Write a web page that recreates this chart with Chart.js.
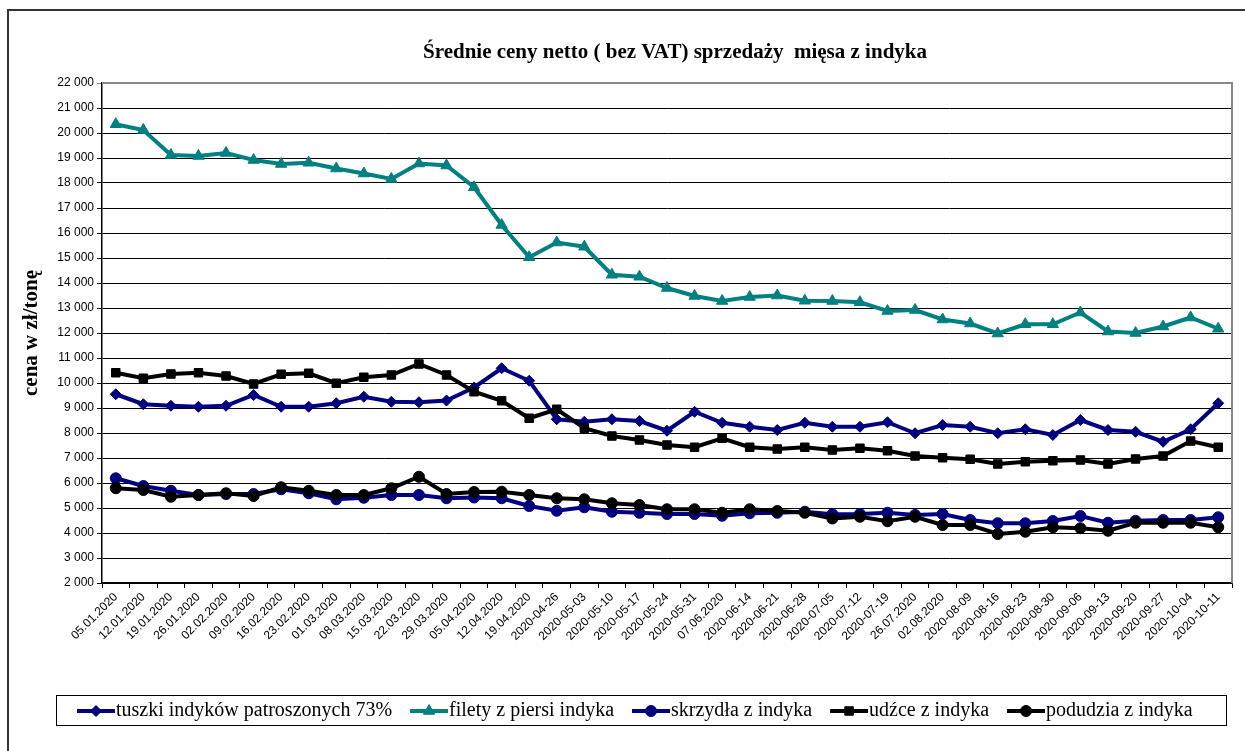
<!DOCTYPE html>
<html>
<head>
<meta charset="utf-8">
<title>Średnie ceny netto sprzedaży mięsa z indyka</title>
<script src="https://cdn.jsdelivr.net/npm/chart.js"></script>
<style>
  html, body { margin: 0; padding: 0; background: #fff; }
  #wrap { width: 1245px; height: 751px; position: relative; }
</style>
</head>
<body>
<div id="wrap"><canvas id="myChart" width="1245" height="751"></canvas></div>
<script>

const chartTitle = 'Średnie ceny netto ( bez VAT) sprzedaży  mięsa z indyka';
const yTitle = 'cena w zł/tonę';

const weeks = ['05.01.2020', '12.01.2020', '19.01.2020', '26.01.2020', '02.02.2020', '09.02.2020',
    '16.02.2020', '23.02.2020', '01.03.2020', '08.03.2020', '15.03.2020', '22.03.2020', '29.03.2020',
    '05.04.2020', '12.04.2020', '19.04.2020', '2020-04-26', '2020-05-03', '2020-05-10', '2020-05-17',
    '2020-05-24', '2020-05-31', '07.06.2020', '2020-06-14', '2020-06-21', '2020-06-28', '2020-07-05',
    '2020-07-12', '2020-07-19', '26.07.2020', '02.08.2020', '2020-08-09', '2020-08-16', '2020-08-23',
    '2020-08-30', '2020-09-06', '2020-09-13', '2020-09-20', '2020-09-27', '2020-10-04', '2020-10-11'];

const seriesNames = ['tuszki indyków patroszonych 73%', 'filety z piersi indyka', 'skrzydła z indyka',
    'udźce z indyka', 'podudzia z indyka'];

const tuszki = [9550, 9150, 9090, 9050, 9090, 9520, 9050, 9050, 9190, 9450, 9250, 9230, 9300, 9820,
    10590, 10090, 8550, 8450, 8550, 8480, 8090, 8850, 8410, 8250, 8120, 8410, 8250, 8250, 8430, 7990,
    8320, 8250, 7990, 8150, 7920, 8520, 8120, 8050, 7650, 8150, 9190];

const filety = [20350, 20120, 19120, 19080, 19200, 18920, 18760, 18810, 18580, 18380, 18160, 18780,
    18700, 17830, 16320, 15030, 15620, 15450, 14330, 14250, 13800, 13480, 13280, 13440, 13500, 13290,
    13280, 13230, 12880, 12920, 12540, 12380, 11980, 12350, 12350, 12820, 12060, 12000, 12260, 12620, 12170];

const skrzydla = [6190, 5880, 5690, 5520, 5560, 5560, 5750, 5590, 5350, 5410, 5520, 5520, 5390, 5420,
    5390, 5080, 4890, 5030, 4850, 4810, 4760, 4760, 4690, 4790, 4810, 4850, 4750, 4760, 4810, 4720,
    4760, 4520, 4390, 4390, 4480, 4680, 4410, 4490, 4520, 4520, 4630];

const udzce = [10410, 10190, 10360, 10410, 10280, 9960, 10350, 10390, 9990, 10230, 10320, 10760,
    10320, 9650, 9290, 8590, 8950, 8190, 7880, 7720, 7520, 7430, 7790, 7430, 7360, 7430, 7320, 7390,
    7290, 7080, 7010, 6950, 6760, 6850, 6890, 6920, 6760, 6960, 7080, 7680, 7430];

const podudzia = [5790, 5720, 5450, 5520, 5590, 5480, 5830, 5690, 5520, 5520, 5790, 6250, 5560, 5640,
    5650, 5520, 5390, 5350, 5190, 5120, 4950, 4950, 4810, 4950, 4880, 4810, 4580, 4650, 4470, 4650,
    4320, 4320, 3960, 4050, 4230, 4190, 4090, 4410, 4410, 4410, 4230];

const yMin = 2000;
const yMax = 22000;
const yStep = 1000;

const NAVY = '#000080';
const TEAL = '#008080';
const BLACK = '#000000';

function series(i, values, color, style, radius) {
    return {
        label: seriesNames[i],
        data: values,
        borderColor: color,
        backgroundColor: color,
        borderWidth: 4,
        pointStyle: style,
        pointRadius: radius,
        pointBorderWidth: 1,
        pointHoverRadius: radius,
        tension: 0,
        // excel draws later series on top
        order: 4 - i
    };
}

// frame, title, plot border and legend box
const decor = {
    id: 'decor',
    beforeDraw(chart) {
        const ctx = chart.ctx;
        ctx.save();
        ctx.fillStyle = '#fff';
        ctx.fillRect(0, 0, chart.width, chart.height);
        ctx.strokeStyle = '#333';
        ctx.lineWidth = 2;
        ctx.beginPath();
        ctx.moveTo(8, chart.height);
        ctx.lineTo(8, 10);
        ctx.lineTo(chart.width, 10);
        ctx.stroke();
        ctx.restore();
    },
    afterDraw(chart) {
        const ctx = chart.ctx;
        const a = chart.chartArea;
        ctx.save();

        // plot area top / right edge
        ctx.strokeStyle = '#888';
        ctx.lineWidth = 2;
        ctx.beginPath();
        ctx.moveTo(a.left, a.top);
        ctx.lineTo(a.right, a.top);
        ctx.lineTo(a.right, a.bottom);
        ctx.stroke();

        // title
        ctx.fillStyle = '#000';
        ctx.font = 'bold 21px "Liberation Serif", "Times New Roman", serif';
        ctx.textAlign = 'center';
        ctx.textBaseline = 'middle';
        ctx.fillText(chartTitle, 675, 53);

        // legend
        const box = { left: 56, top: 695, right: 1226, bottom: 725 };
        ctx.strokeStyle = '#000';
        ctx.lineWidth = 1;
        ctx.strokeRect(box.left + 0.5, box.top + 0.5, box.right - box.left, box.bottom - box.top);

        ctx.font = '20px "Liberation Serif", "Times New Roman", serif';
        ctx.textAlign = 'left';
        ctx.textBaseline = 'middle';
        const cy = (box.top + box.bottom) / 2 + 1;
        let x = 77;
        chart.data.datasets.forEach(ds => {
            ctx.strokeStyle = ds.borderColor;
            ctx.lineWidth = 4;
            ctx.beginPath();
            ctx.moveTo(x, cy);
            ctx.lineTo(x + 38, cy);
            ctx.stroke();
            ctx.fillStyle = ds.backgroundColor;
            ctx.strokeStyle = ds.borderColor;
            ctx.lineWidth = 1;
            if (Chart.helpers && Chart.helpers.drawPoint) {
                Chart.helpers.drawPoint(ctx, {
                    pointStyle: ds.pointStyle,
                    radius: ds.pointRadius,
                    rotation: 0,
                    borderWidth: 1
                }, x + 19, cy);
            }
            ctx.fillStyle = '#000';
            ctx.fillText(ds.label, x + 39, cy);
            x += 39 + ctx.measureText(ds.label).width + 18;
        });
        ctx.restore();
    }
};

const config = {
    type: 'line',
    data: {
        labels: weeks,
        datasets: [
            series(0, tuszki, NAVY, 'rectRot', 5.5),
            series(1, filety, TEAL, 'triangle', 6.5),
            series(2, skrzydla, NAVY, 'circle', 5.5),
            series(3, udzce, BLACK, 'rect', 6),
            series(4, podudzia, BLACK, 'circle', 5.5)
        ]
    },
    options: {
        responsive: false,
        animation: false,
        layout: { padding: { top: 83, left: 0, right: 13, bottom: 0 } },
        plugins: {
            legend: { display: false },
            title: { display: false },
            tooltip: { enabled: false }
        },
        scales: {
            x: {
                offset: true,
                afterFit: s => { s.height = 168; },
                grid: {
                    display: true,
                    drawOnChartArea: false,
                    drawTicks: true,
                    tickLength: 5,
                    offset: true,
                    color: '#000'
                },
                border: { display: true, color: '#000', width: 1.5 },
                ticks: {
                    autoSkip: false,
                    minRotation: 45,
                    maxRotation: 45,
                    padding: 2,
                    color: '#000',
                    font: { family: '"Liberation Sans", Arial, sans-serif', size: 12 }
                }
            },
            y: {
                min: yMin,
                max: yMax,
                afterFit: s => { s.width = 102; },
                grid: {
                    color: c => (c.tick && c.tick.value === yMax) ? '#888' : '#000',
                    lineWidth: 1,
                    tickLength: 5,
                    drawTicks: true
                },
                border: { display: true, color: '#000', width: 1.5 },
                ticks: {
                    stepSize: yStep,
                    padding: 3,
                    color: '#000',
                    font: { family: '"Liberation Sans", Arial, sans-serif', size: 12 },
                    callback: v => (v / 1000) + ' 000'
                },
                title: {
                    display: true,
                    text: yTitle,
                    color: '#000',
                    padding: { top: 19 },
                    font: { family: '"Liberation Serif", "Times New Roman", serif', size: 21, weight: 'bold' }
                }
            }
        }
    },
    plugins: [decor]
};

const myChart = new Chart(document.getElementById('myChart'), config);

</script>
</body>
</html>
